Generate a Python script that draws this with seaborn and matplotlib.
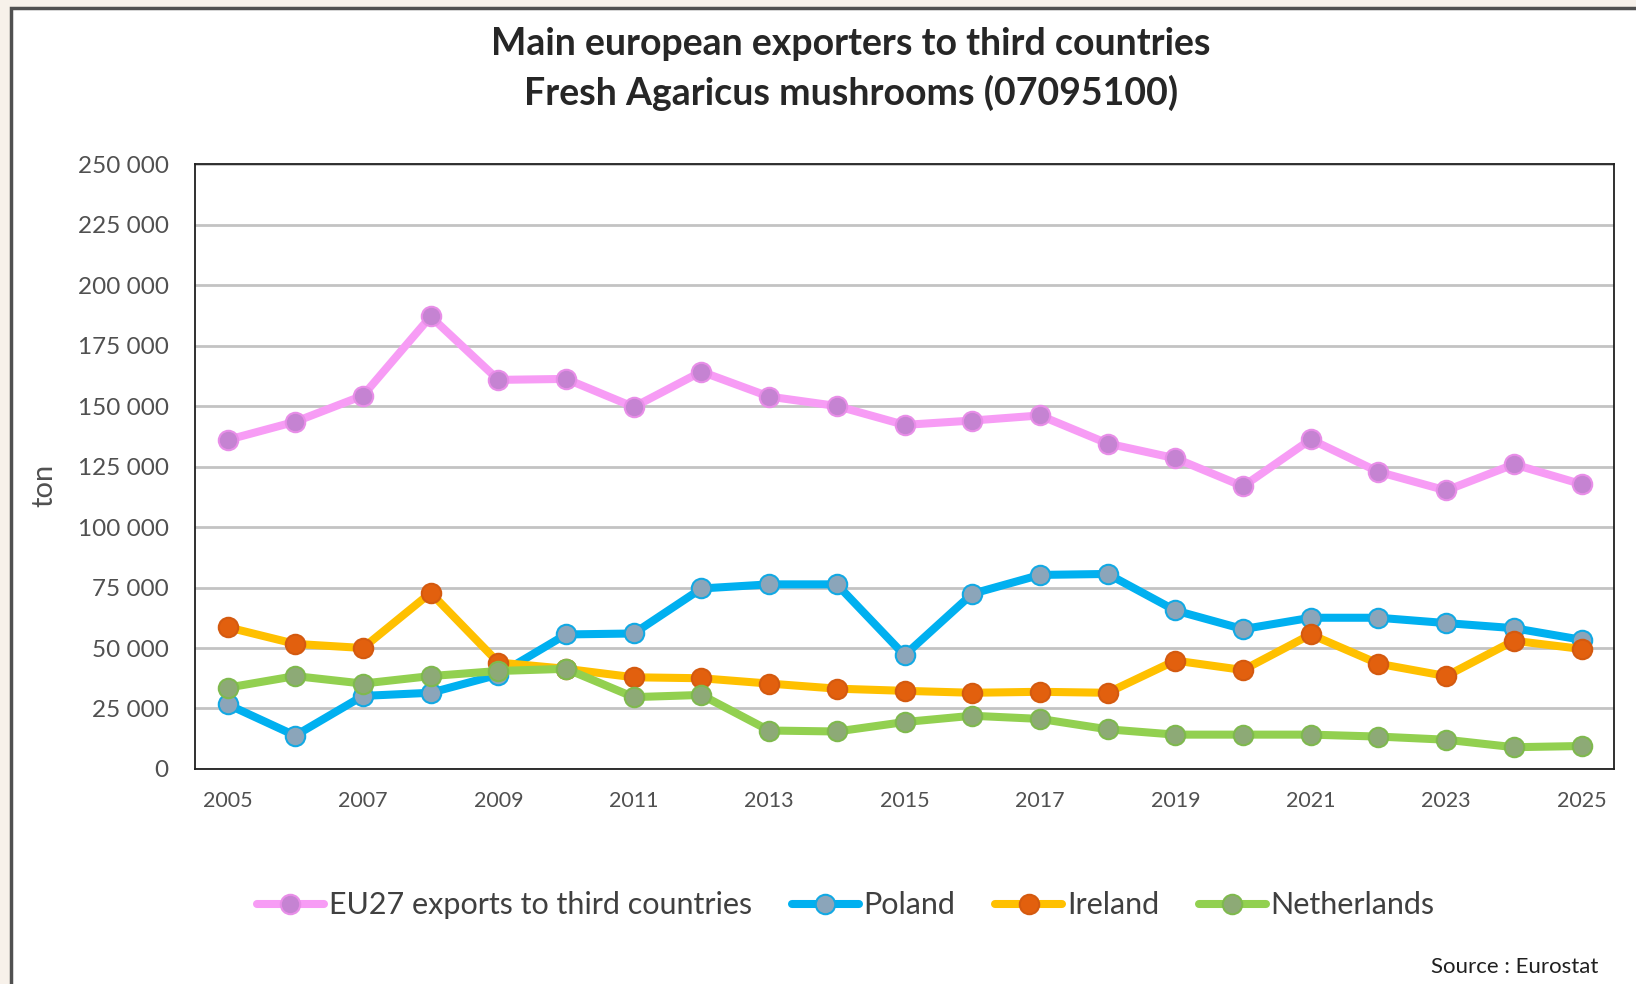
import pandas as pd
import matplotlib
matplotlib.use("Agg")
import matplotlib.pyplot as plt
import matplotlib.patches as mpatches
from matplotlib.ticker import FuncFormatter, MultipleLocator, FixedLocator
import seaborn as sns

# =======================
# Data (tons)
# =======================
years = list(range(2005, 2026))
tick_years = years[::2]

eu27 = [136000, 143500, 154300, 187000, 160800, 161200, 149600, 164200, 153900, 150000,
        142200, 144000, 146100, 134500, 128400, 116800, 136200, 122800, 115100, 125900, 117700]
poland = [26700, 13800, 30200, 31500, 39000, 55600, 56000, 74600, 76300, 76300,
          47000, 72400, 80200, 80600, 65500, 57800, 62500, 62500, 60300, 58200, 53400]
ireland = [58600, 51700, 50000, 72800, 44000, 41400, 37900, 37500, 35300, 33200,
           32300, 31500, 31900, 31500, 44800, 40900, 55600, 43500, 38400, 53000, 49600]
netherlands = [33600, 38400, 35300, 38400, 40500, 41400, 29700, 30600, 15900, 15500,
               19400, 22000, 20700, 16400, 14200, 14200, 14200, 13400, 12100, 9000, 9500]

series_names = ["EU27 exports to third countries", "Poland", "Ireland", "Netherlands"]
series_values = [eu27, poland, ireland, netherlands]

line_colors = ["#f79cf5", "#00b0f0", "#ffc000", "#92d050"]
marker_faces = ["#c583d2", "#8ba5ba", "#e2600e", "#8daa76"]
marker_edges = ["#e88ee8", "#12a9e4", "#d45a10", "#7fb94e"]

df = pd.DataFrame({"year": years})
for name, vals in zip(series_names, series_values):
    df[name] = vals
long_df = df.melt(id_vars="year", var_name="series", value_name="tons")

# =======================
# Figure setup
# =======================
sns.set_theme(style="white")
plt.rcParams["font.family"] = ["Lato", "DejaVu Sans"]

fig = plt.figure(figsize=(16.36, 9.84), dpi=100)
fig.patch.set_facecolor("#f7f1ea")
frame = mpatches.Rectangle((0.0065, -0.05), 1.1, 0.9915 + 0.05, transform=fig.transFigure,
                           facecolor="white", edgecolor="#505050", lw=2.5, zorder=-10)
fig.patches.append(frame)

ax = fig.add_axes([0.1192, 0.2185, 0.8674, 0.6148])
ax.set_zorder(1)
ax.set_facecolor("white")

for name, lc, mf, me in zip(series_names, line_colors, marker_faces, marker_edges):
    sub = long_df[long_df["series"] == name]
    sns.lineplot(data=sub, x="year", y="tons", ax=ax, color=lc, lw=5.8,
                 marker="o", markersize=14, markerfacecolor=mf, markeredgecolor=me,
                 markeredgewidth=1.5, label=name)

# =======================
# Axes styling
# =======================
ax.set_xlim(2004.52, 2025.48)
ax.set_ylim(0, 250000)
ax.yaxis.set_major_locator(MultipleLocator(25000))
ax.xaxis.set_major_locator(FixedLocator(tick_years))
ax.yaxis.set_major_formatter(FuncFormatter(lambda v, p: f"{int(v):,}".replace(",", " ")))
ax.xaxis.set_major_formatter(FuncFormatter(lambda v, p: f"{int(v)}"))
ax.grid(axis="y", color="#c3c3c3", lw=2)
ax.set_axisbelow(True)
for s in ax.spines.values():
    s.set_color("#202020")
    s.set_linewidth(1.3)
ax.tick_params(axis="x", length=0, labelsize=15.5, labelcolor="#505050", pad=16)
ax.tick_params(axis="y", length=0, labelsize=17.5, labelcolor="#505050", pad=19)
ax.set_xlabel("")
ax.set_ylabel("ton", fontsize=21, color="#505050")
ax.yaxis.set_label_coords(-0.097, 0.469)

fig.text(0.52, 0.955, "Main european exporters to third countries", ha="center", va="center",
         fontsize=27, fontweight="bold", color="#262626")
fig.text(0.52, 0.906, "Fresh Agaricus mushrooms (07095100)", ha="center", va="center",
         fontsize=27, fontweight="bold", color="#262626")

handles, labels = ax.get_legend_handles_labels()
ax.get_legend().remove()
fig.legend(handles, labels, loc="center", bbox_to_anchor=(0.517, 0.08), ncol=4,
           frameon=False, fontsize=22, handlelength=2.2, handletextpad=0.15,
           columnspacing=1.3, labelcolor="#404040")

fig.text(0.977, 0.017, "Source : Eurostat", ha="right", va="center", fontsize=16, color="#202020")

fig.savefig("out.png", dpi=100, facecolor=fig.get_facecolor())
